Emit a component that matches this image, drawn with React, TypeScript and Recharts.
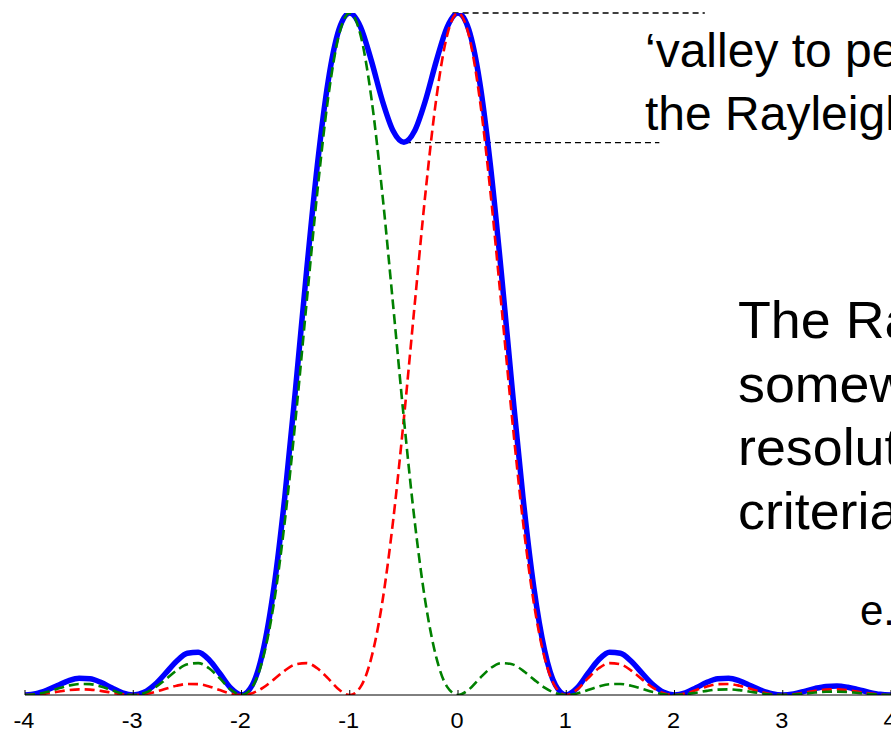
import React from "react";
import { LineChart, Line, XAxis, YAxis, ReferenceLine } from "recharts";

const xValues = [
  -4.0, -3.9, -3.8, -3.7, -3.6, -3.5, -3.4, -3.3, -3.2, -3.1,
  -3.0, -2.9, -2.8, -2.7, -2.6, -2.5, -2.4, -2.3, -2.2, -2.1,
  -2.0, -1.9, -1.8, -1.7, -1.6, -1.5, -1.4, -1.3, -1.2, -1.1,
  -1.0, -0.9, -0.8, -0.7, -0.6, -0.5, -0.4, -0.3, -0.2, -0.1,
  0.0, 0.1, 0.2, 0.3, 0.4, 0.5, 0.6, 0.7, 0.8, 0.9,
  1.0, 1.1, 1.2, 1.3, 1.4, 1.5, 1.6, 1.7, 1.8, 1.9,
  2.0, 2.1, 2.2, 2.3, 2.4, 2.5, 2.6, 2.7, 2.8, 2.9,
  3.0, 3.1, 3.2, 3.3, 3.4, 3.5, 3.6, 3.7, 3.8, 3.9,
  4.0,
];

const redValues = [
  0, 0.0006, 0.0024, 0.0048, 0.0071, 0.0083, 0.0079, 0.0061, 0.0034, 0.0010,
  0, 0.0012, 0.0045, 0.0091, 0.0136, 0.0162, 0.0159, 0.0125, 0.0072, 0.0022,
  0, 0.0027, 0.0108, 0.0229, 0.0358, 0.0450, 0.0468, 0.0392, 0.0243, 0.0080,
  0, 0.0119, 0.0547, 0.1353, 0.2546, 0.4053, 0.5728, 0.7368, 0.8751, 0.9675,
  1.0, 0.9675, 0.8751, 0.7368, 0.5728, 0.4053, 0.2546, 0.1353, 0.0547, 0.0119,
  0, 0.0080, 0.0243, 0.0392, 0.0468, 0.0450, 0.0358, 0.0229, 0.0108, 0.0027,
  0, 0.0022, 0.0072, 0.0125, 0.0159, 0.0162, 0.0136, 0.0091, 0.0045, 0.0012,
  0, 0.0010, 0.0034, 0.0061, 0.0079, 0.0083, 0.0071, 0.0048, 0.0024, 0.0006,
  0,
];

const greenValues = [
  0, 0.0012, 0.0045, 0.0091, 0.0136, 0.0162, 0.0159, 0.0125, 0.0072, 0.0022,
  0, 0.0027, 0.0108, 0.0229, 0.0358, 0.0450, 0.0468, 0.0392, 0.0243, 0.0080,
  0, 0.0119, 0.0547, 0.1353, 0.2546, 0.4053, 0.5728, 0.7368, 0.8751, 0.9675,
  1.0, 0.9675, 0.8751, 0.7368, 0.5728, 0.4053, 0.2546, 0.1353, 0.0547, 0.0119,
  0, 0.0080, 0.0243, 0.0392, 0.0468, 0.0450, 0.0358, 0.0229, 0.0108, 0.0027,
  0, 0.0022, 0.0072, 0.0125, 0.0159, 0.0162, 0.0136, 0.0091, 0.0045, 0.0012,
  0, 0.0010, 0.0034, 0.0061, 0.0079, 0.0083, 0.0071, 0.0048, 0.0024, 0.0006,
  0, 0.0006, 0.0020, 0.0036, 0.0047, 0.0050, 0.0043, 0.0030, 0.0015, 0.0004,
  0,
];

const blueValues = [
  0, 0.0018, 0.0069, 0.0139, 0.0207, 0.0245, 0.0238, 0.0186, 0.0106, 0.0032,
  0, 0.0039, 0.0153, 0.0320, 0.0494, 0.0612, 0.0627, 0.0517, 0.0315, 0.0102,
  0, 0.0146, 0.0655, 0.1582, 0.2904, 0.4503, 0.6196, 0.7760, 0.8994, 0.9755,
  1.0, 0.9794, 0.9298, 0.8721, 0.8274, 0.8106, 0.8274, 0.8721, 0.9298, 0.9794,
  1.0, 0.9755, 0.8994, 0.7760, 0.6196, 0.4503, 0.2904, 0.1582, 0.0655, 0.0146,
  0, 0.0102, 0.0315, 0.0517, 0.0627, 0.0612, 0.0494, 0.0320, 0.0153, 0.0039,
  0, 0.0032, 0.0106, 0.0186, 0.0238, 0.0245, 0.0207, 0.0139, 0.0069, 0.0018,
  0, 0.0016, 0.0054, 0.0097, 0.0126, 0.0133, 0.0114, 0.0078, 0.0039, 0.0010,
  0,
];

const xTicks = [-4, -3, -2, -1, 0, 1, 2, 3, 4];

// annotation segments (data coordinates)
const peakLevel = 1.0;
const peakLineX = [-0.05, 2.28];
const valleyLevel = 0.81;
const valleyLineX = [-0.49, 1.86];

const topText = ["\u2018valley to peak\u2019", "the Rayleigh"];
const sideText = ["The Rayleigh", "somewhat", "resolution", "criteria"];
const egText = "e.g.";

const data = xValues.map((x, i) => ({
  x,
  red: redValues[i],
  green: greenValues[i],
  blue: blueValues[i],
}));

const FONT = "'Liberation Sans', Arial, Helvetica, sans-serif";

const Tick = (props: any) => {
  const { x, y, payload } = props;
  return (
    <g>
      <line x1={x} y1={y} x2={x} y2={y - 5} stroke="#000" strokeWidth={1} />
      <text
        x={0}
        y={0}
        textAnchor="middle"
        fontSize={22}
        fontFamily={FONT}
        fill="#000"
        transform={`translate(${x - 1},${y + 33}) scale(1.07,1)`}
      >
        {payload.value}
      </text>
    </g>
  );
};

const SText = ({
  x,
  y,
  size,
  sx,
  children,
}: {
  x: number;
  y: number;
  size: number;
  sx: number;
  children: React.ReactNode;
}) => (
  <text
    x={0}
    y={0}
    fontSize={size}
    fontFamily={FONT}
    fill="#000"
    transform={`translate(${x},${y}) scale(${sx},1)`}
  >
    {children}
  </text>
);

export default function App() {
  return (
    <div
      style={{
        position: "absolute",
        left: 0,
        top: 0,
        width: 891,
        height: 732,
        overflow: "hidden",
        background: "#fff",
      }}
    >
      <LineChart
        width={891}
        height={732}
        data={data}
        margin={{ top: 13, right: 0, left: 25, bottom: 0 }}
      >
        <XAxis
          dataKey="x"
          type="number"
          domain={[-4, 4]}
          ticks={xTicks}
          tickLine={false}
          tickSize={0}
          tickMargin={0}
          height={37}
          axisLine={{ stroke: "#000", strokeWidth: 1 }}
          tick={<Tick />}
          allowDataOverflow
          interval={0}
        />
        <YAxis hide domain={[0, 1]} type="number" allowDataOverflow />
        <ReferenceLine
          segment={[
            { x: peakLineX[0], y: peakLevel },
            { x: peakLineX[1], y: peakLevel },
          ]}
          stroke="#000"
          strokeWidth={1.3}
          strokeDasharray="6 4"
          ifOverflow="visible"
        />
        <ReferenceLine
          segment={[
            { x: valleyLineX[0], y: valleyLevel },
            { x: valleyLineX[1], y: valleyLevel },
          ]}
          stroke="#000"
          strokeWidth={1.3}
          strokeDasharray="6 4"
          ifOverflow="visible"
        />
        <Line
          dataKey="blue"
          type="monotone"
          stroke="#0000ff"
          strokeWidth={5.5}
          dot={false}
          isAnimationActive={false}
          strokeLinejoin="round"
        />
        <Line
          dataKey="red"
          type="monotone"
          stroke="#ff0000"
          strokeWidth={2.6}
          strokeDasharray="10 5"
          dot={false}
          isAnimationActive={false}
        />
        <Line
          dataKey="green"
          type="monotone"
          stroke="#008000"
          strokeWidth={2.6}
          strokeDasharray="10 5"
          dot={false}
          isAnimationActive={false}
        />
      </LineChart>
      <svg
        width={891}
        height={732}
        style={{ position: "absolute", left: 0, top: 0, pointerEvents: "none" }}
      >
        <SText x={645} y={67} size={48} sx={1.0}>{topText[0]}</SText>
        <SText x={645} y={130} size={48} sx={1.0}>{topText[1]}</SText>
        {sideText.map((t, i) => (
          <SText key={t} x={738} y={338 + i * 63.5} size={51} sx={1.055}>{t}</SText>
        ))}
        <SText x={860} y={625} size={42} sx={1.0}>{egText}</SText>
      </svg>
    </div>
  );
}
